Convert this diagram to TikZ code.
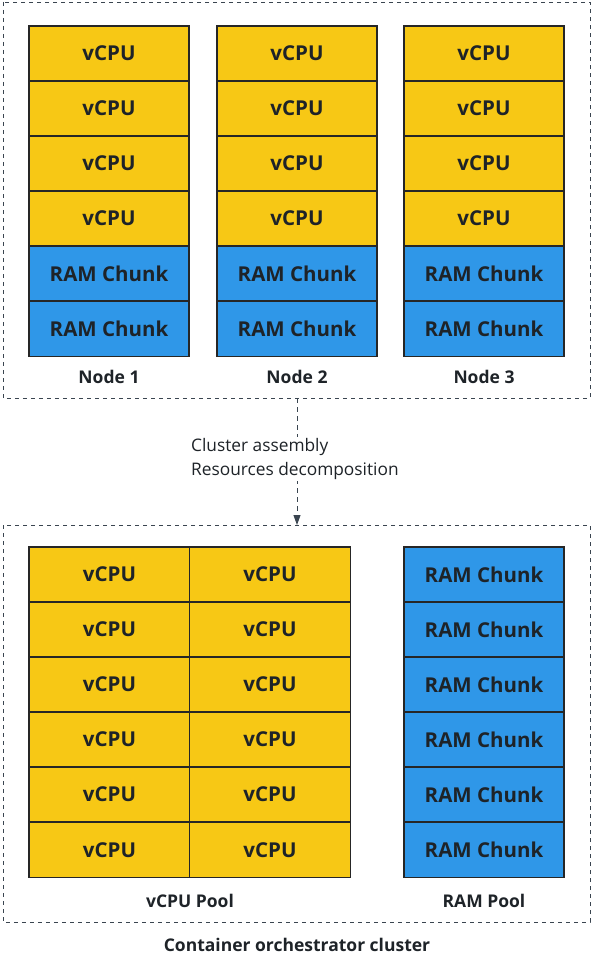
\documentclass[tikz,border=0pt]{standalone}
\usepackage{fontspec}
\setmainfont{Open Sans}
\usetikzlibrary{arrows.meta}
\definecolor{cpuy}{HTML}{F7C815}
\definecolor{ramb}{HTML}{2F97E8}
\definecolor{edgec}{HTML}{262626}
\definecolor{dashc}{HTML}{3A4550}
\definecolor{txt}{HTML}{1E2328}
\tikzset{
  cell/.style={draw=edgec, line width=1.2pt, minimum width=160pt, minimum height=55pt, inner sep=0pt, font=\bfseries\fontsize{20.5}{23}\selectfont, text=txt},
  cpu/.style={cell, fill=cpuy},
  ram/.style={cell, fill=ramb},
  grp/.style={draw=dashc, line width=0.9pt, dash pattern=on 4pt off 4pt},
  lbl/.style={font=\bfseries\fontsize{17.5}{20}\selectfont, text=txt},
  note/.style={font=\fontsize{17.3}{24}\selectfont, text=txt, align=left, anchor=west}
}
\begin{document}
\begin{tikzpicture}[x=1pt,y=-1pt]
\useasboundingbox (0,0) rectangle (593,966);
% top cluster
\draw[grp] (3,2) rectangle (590,398);
\foreach \c/\x in {1/109,2/297,3/484}{
  \foreach \r/\y in {1/53.5,2/108.5,3/163.5,4/218.5}{
    \node[cpu] (n\c c\r) at (\x,\y) {vCPU};
  }
  \node[ram] (n\c r1) at (\x,273.5) {RAM Chunk};
  \node[ram] (n\c r2) at (\x,329) {RAM Chunk};
  \node[lbl] (n\c l) at (\x,377) {Node \c};
}
% bottom cluster
\draw[grp] (3,525) rectangle (590,922);
\foreach \r/\y in {1/574.5,2/629.5,3/684.5,4/739.5,5/794.5,6/850}{
  \node[cpu, minimum width=161pt] (pa\r) at (109.5,\y) {vCPU};
  \node[cpu, minimum width=161pt] (pb\r) at (270,\y) {vCPU};
  \node[ram] (pr\r) at (484,\y) {RAM Chunk};
}
\node[lbl] (vpool) at (190,901) {vCPU Pool};
\node[lbl] (rpool) at (484,901) {RAM Pool};
\node[lbl] (cl) at (297,945) {Container orchestrator cluster};
% arrow
\coordinate (a1) at (297,398);
\coordinate (a2) at (297,525);
\draw[draw=dashc, line width=0.9pt, dash pattern=on 5pt off 4pt, -{Triangle[length=10pt,width=7pt]}] (a1) -- (a2);
\node[note, fill=white, inner sep=1pt] (tx) at (190,459) {Cluster assembly\\Resources decomposition};
\end{tikzpicture}
\end{document}
